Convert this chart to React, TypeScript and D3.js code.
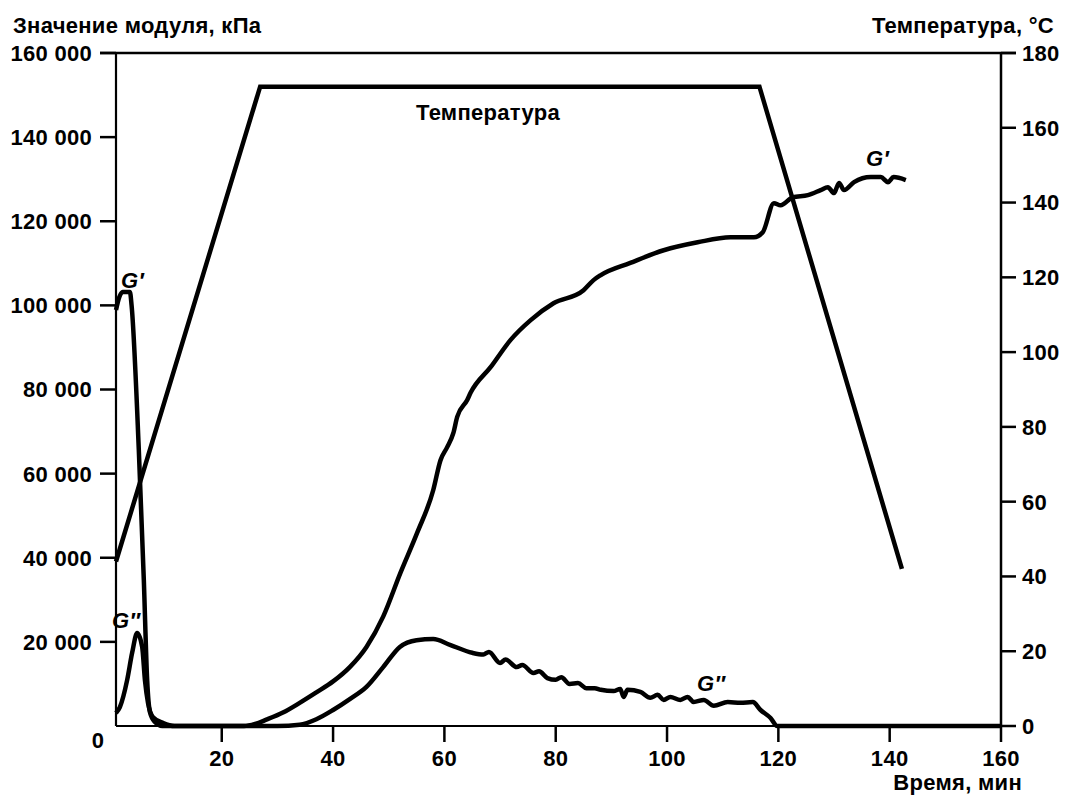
import React from "react";
import * as d3 from "d3";

const W = 1068;
const H = 796;

// Time ticks (min)
const xTicks = [20, 40, 60, 80, 100, 120, 140, 160];
// Left axis ticks (kPa)
const yLeftTicks = [20000, 40000, 60000, 80000, 100000, 120000, 140000, 160000];
// Right axis ticks (°C)
const yRightTicks = [0, 20, 40, 60, 80, 100, 120, 140, 160, 180];

// Temperature, [time min, °C]
const temperature: [number, number][] = [
  [1, 44], [26.9, 171], [116.6, 171], [142.2, 42],
];

// Storage modulus G', [time min, kPa]
const gPrime: [number, number][] = [
  [1, 98900], [1.6, 102000], [2.2, 103200], [3.5, 103200], [3.8, 100000],
  [5.1, 65600], [6.0, 34700], [6.6, 10900], [7.1, 3300], [8.0, 950], [9.3, 0],
  [24, 0], [26, 500], [28, 1500], [31, 3200], [34, 5500], [37, 8000], [40, 10600],
  [43, 14000], [46, 18800], [49, 26000], [52.1, 36400], [55.1, 45900],
  [58, 56100], [59.3, 63200], [60.5, 66300], [61.6, 69600], [62.3, 73500],
  [64.1, 77500], [64.7, 79200], [68.3, 85300], [71.9, 91800], [75.5, 96500],
  [79.6, 100500], [85, 103600], [86.8, 106000], [88.1, 107200], [93.4, 110100],
  [99.4, 113100], [105.5, 115000], [111.4, 116200], [115.6, 116200],
  [117.2, 117400], [119.2, 124300], [120.4, 123800], [122.6, 125700],
  [125.3, 126200], [127.6, 127400], [128.9, 128100], [130.0, 126700],
  [130.9, 129100], [131.8, 127400], [133.6, 129300], [136.6, 130500],
  [138.4, 130500], [139.7, 129300], [140.7, 130500], [142.9, 129800],
];

// Loss modulus G'', [time min, kPa]
const gDouble: [number, number][] = [
  [1, 3100], [1.7, 4500], [3.0, 10900], [3.9, 17400], [4.8, 22100], [5.7, 18800],
  [6.2, 10900], [6.75, 5500], [7.65, 2100], [9.5, 700], [11.5, 0],
  [30, 0], [34, 300], [37, 1600], [40, 3800], [43, 6400], [46, 9300], [49, 14000],
  [52, 18800], [55, 20400], [58, 20700], [61, 19300], [65, 17400], [67, 17000],
  [68, 17600], [70, 15000], [71, 15800], [73, 14000], [74, 14500], [76, 12600],
  [77, 13000], [78.5, 11400], [80, 11000], [81, 11600], [82.5, 10000], [84, 10200],
  [85.5, 9000], [87, 9000], [88.1, 8600], [90.4, 8300], [91.6, 8800], [92.2, 6900],
  [92.9, 8600], [95.2, 8100], [97, 6700], [98.3, 7400], [99.4, 6200], [100.6, 6900],
  [102.4, 6200], [103.7, 6900], [104.8, 5700], [106.6, 6200], [108.4, 4800],
  [110.9, 5700], [113.2, 5500], [115.4, 5700], [116.8, 3800], [118.6, 1900],
  [119.8, 0], [160, 0],
];

const FONT = "'Liberation Sans', Arial, sans-serif";

export default function App() {
  const left = 116, right = 1001, top = 53, bottom = 726;
  const x = d3.scaleLinear().domain([1, 160]).range([left, right]);
  const yL = d3.scaleLinear().domain([0, 160000]).range([bottom, top]);
  const yR = d3.scaleLinear().domain([0, 180]).range([bottom, top]);
  const fmt = d3.formatLocale({ thousands: " ", grouping: [3], decimal: ".", currency: ["", ""] }).format(",d");

  const lineL = d3.line<[number, number]>().x(d => x(d[0])).y(d => yL(d[1])).curve(d3.curveMonotoneX);
  const lineT = d3.line<[number, number]>().x(d => x(d[0])).y(d => yR(d[1]));

  const txt = { fontFamily: FONT, fontWeight: 700, fontSize: 22, letterSpacing: 0.3, fill: "#000" } as const;

  return (
    <svg width={W} height={H} style={{ position: "absolute", left: 0, top: 0, background: "#fff" }}>
      <rect width={W} height={H} fill="#fff" />
      {/* frame */}
      <line x1={100} x2={right + 15} y1={top} y2={top} stroke="#000" strokeWidth={2.5} />
      <line x1={left} x2={left} y1={top} y2={bottom} stroke="#000" strokeWidth={2.2} />
      <line x1={right} x2={right} y1={top} y2={bottom} stroke="#000" strokeWidth={2.5} />
      <line x1={left} x2={right} y1={bottom} y2={bottom} stroke="#000" strokeWidth={2} />

      {/* left ticks */}
      {yLeftTicks.map(v => (
        <g key={"l" + v}>
          <line x1={100} x2={left} y1={yL(v)} y2={yL(v)} stroke="#000" strokeWidth={2.5} />
          <text x={92} y={yL(v)} dy="0.36em" textAnchor="end" {...txt}>{fmt(v)}</text>
        </g>
      ))}
      <text x={98} y={748} textAnchor="middle" {...txt}>0</text>

      {/* right ticks */}
      {yRightTicks.map(v => (
        <g key={"r" + v}>
          <line x1={right} x2={right + 15} y1={yR(v)} y2={yR(v)} stroke="#000" strokeWidth={2.5} />
          <text x={right + 21} y={yR(v)} dy="0.36em" textAnchor="start" {...txt}>{v}</text>
        </g>
      ))}

      {/* bottom ticks */}
      {xTicks.map(v => (
        <g key={"x" + v}>
          <line x1={x(v)} x2={x(v)} y1={bottom} y2={bottom + 16} stroke="#000" strokeWidth={2.5} />
          <text x={x(v)} y={766} textAnchor="middle" {...txt}>{v}</text>
        </g>
      ))}

      {/* axis titles */}
      <text x={13} y={33} {...txt}>Значение модуля, кПа</text>
      <text x={1054} y={33} textAnchor="end" {...txt}>Температура, °C</text>
      <text x={1022} y={790} textAnchor="end" {...txt}>Время, мин</text>

      {/* curves */}
      <path d={lineT(temperature) || ""} fill="none" stroke="#000" strokeWidth={4.5} strokeLinejoin="miter" />
      <path d={lineL(gDouble) || ""} fill="none" stroke="#000" strokeWidth={4.5} strokeLinejoin="round" />
      <path d={lineL(gPrime) || ""} fill="none" stroke="#000" strokeWidth={4.5} strokeLinejoin="round" />

      {/* curve labels */}
      <text x={488} y={120} textAnchor="middle" {...txt}>Температура</text>
      <text x={121} y={288} {...txt} fontStyle="italic">G′</text>
      <text x={112} y={628} {...txt} fontStyle="italic">G″</text>
      <text x={866} y={166} {...txt} fontStyle="italic">G′</text>
      <text x={697} y={691} {...txt} fontStyle="italic">G″</text>
    </svg>
  );
}
